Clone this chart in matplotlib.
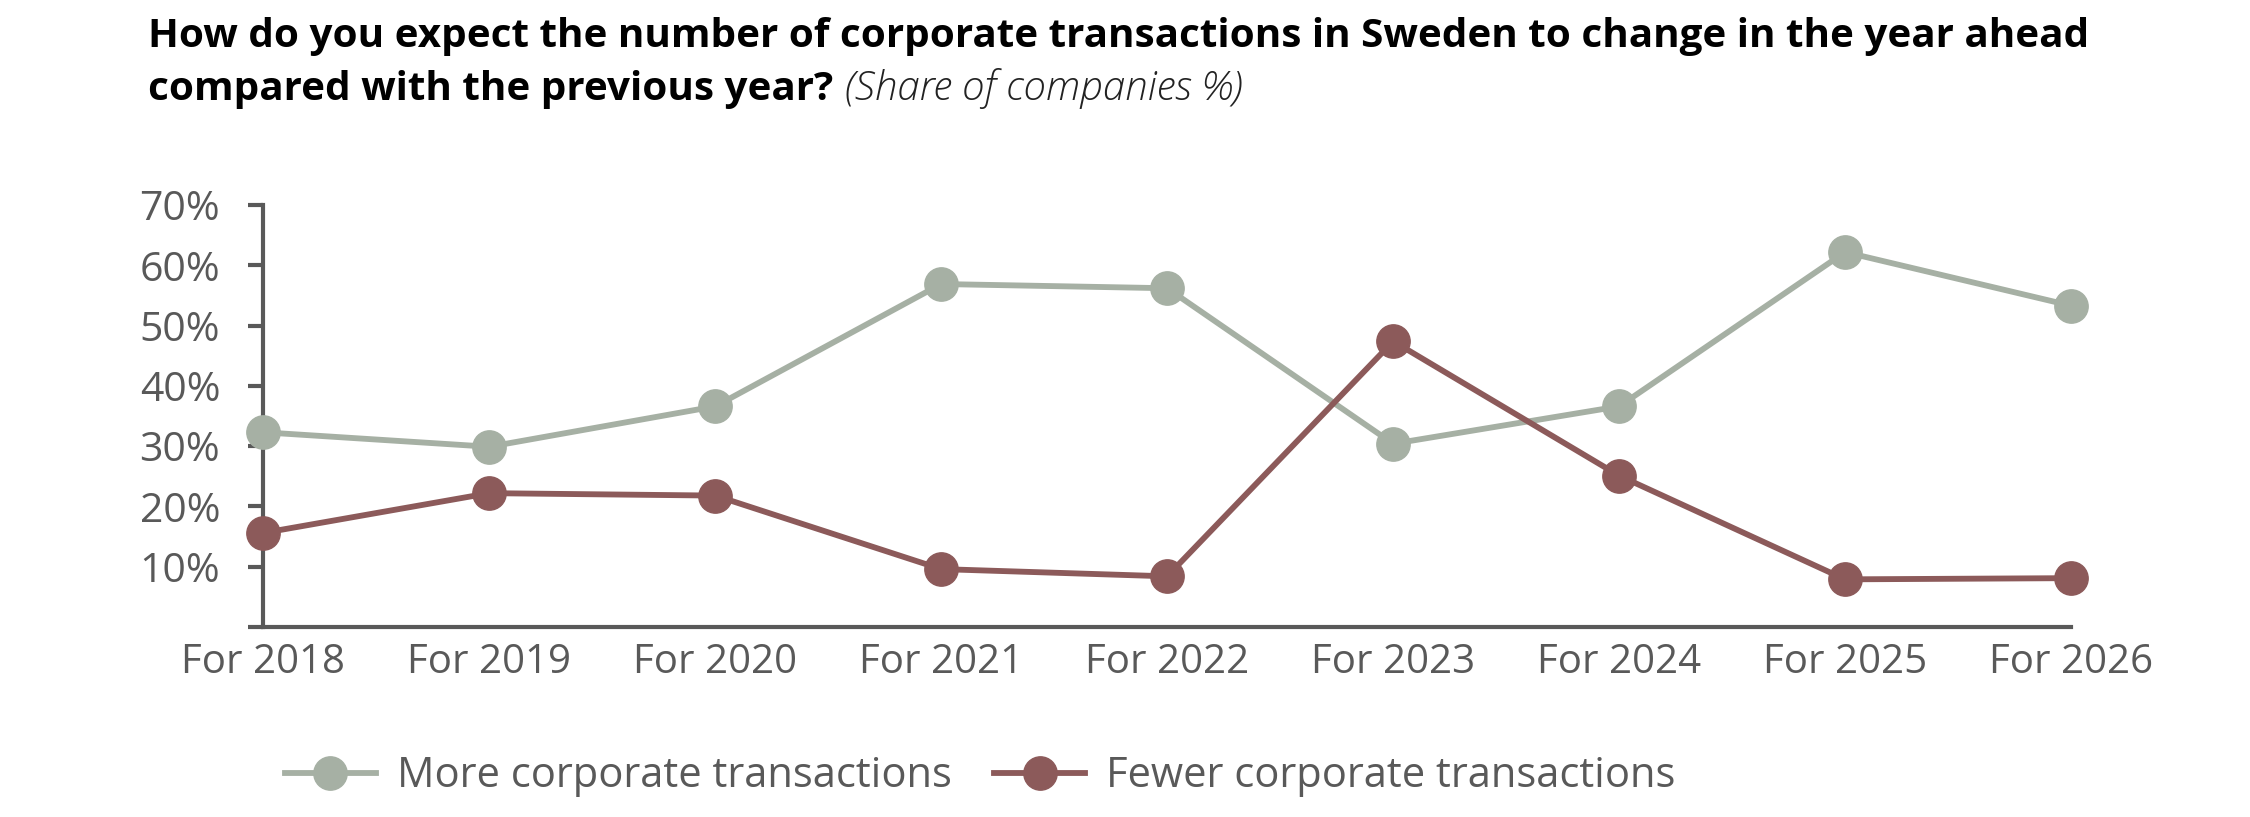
import matplotlib
matplotlib.use("Agg")
import matplotlib.pyplot as plt

years = ["For 2018", "For 2019", "For 2020", "For 2021", "For 2022",
         "For 2023", "For 2024", "For 2025", "For 2026"]
more = [32.3, 29.9, 36.6, 56.9, 56.2, 30.4, 36.6, 62.2, 53.3]
fewer = [15.6, 22.2, 21.8, 9.6, 8.4, 47.4, 25.1, 7.9, 8.1]
y_ticks = [0, 10, 20, 30, 40, 50, 60, 70]
y_labels = ["", "10%", "20%", "30%", "40%", "50%", "60%", "70%"]

green = "#a6b0a4"
red = "#8c5a5a"
grey = "#595959"

plt.rcParams['font.family'] = ['Open Sans', 'DejaVu Sans']

fig = plt.figure(figsize=(22.5, 8.17), dpi=100)
ax = fig.add_axes([0.117, 0.2326, 0.8035, 0.5164])

x = list(range(len(years)))
ax.plot(x, more, color=green, lw=4.2, marker='o', ms=24, label="More corporate transactions", clip_on=False, zorder=3)
ax.plot(x, fewer, color=red, lw=4.2, marker='o', ms=24, label="Fewer corporate transactions", clip_on=False, zorder=3)

ax.set_xlim(0, 8)
ax.set_ylim(0, 70)
ax.set_xticks(x)
ax.set_xticklabels(years, fontsize=29, color=grey)
ax.set_yticks(y_ticks)
ax.set_yticklabels(y_labels, fontsize=29.5, color=grey)
ax.tick_params(axis='x', length=0, pad=11)
ax.tick_params(axis='y', length=11, width=3, color=grey, pad=20)
for s in ['top', 'right']:
    ax.spines[s].set_visible(False)
for s in ['left', 'bottom']:
    ax.spines[s].set_color(grey)
    ax.spines[s].set_linewidth(3)

fig.text(0.066, 0.942, "How do you expect the number of corporate transactions in Sweden to change in the year ahead",
         fontsize=29.1, fontweight='bold', color='black', va='baseline')
t2 = fig.text(0.066, 0.877, "compared with the previous year?",
              fontsize=29.1, fontweight='bold', color='black', va='baseline')
fig.canvas.draw()
plt.annotate(" (Share of companies %)", xy=(1, 0), xycoords=t2, va='bottom', ha='left',
             fontsize=29, style='italic', fontweight='light', color='#222222')

fig.legend(loc='center', bbox_to_anchor=(0.4356, 0.05), ncol=2, frameon=False,
           fontsize=30, labelcolor=grey, handlelength=2.2, columnspacing=1.0, handletextpad=0.5)

fig.savefig("out.png", dpi=100)
